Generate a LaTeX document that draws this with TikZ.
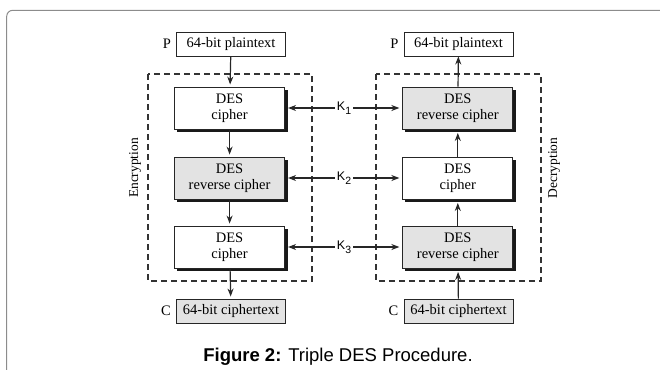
\documentclass[tikz,border=0pt]{standalone}
\usepackage{fontspec}
\setmainfont{Liberation Serif}
\newfontfamily\capfont{Liberation Sans}
\usetikzlibrary{arrows.meta,positioning,calc,backgrounds}

\tikzset{
  desbox/.style={draw=black!85,line width=0.9pt,fill=white,minimum width=110pt,minimum height=42pt,
    inner sep=0pt,align=center,font=\fontsize{14.5}{16}\selectfont},
  revbox/.style={desbox,fill=black!11},
  bitbox/.style={draw=black!85,line width=0.9pt,fill=white,minimum width=109pt,minimum height=24pt,
    inner sep=0pt,font=\fontsize{14.5}{16}\selectfont},
  flow/.style={-{Stealth[length=8pt,width=6pt]},line width=1.2pt,draw=black!85},
  dashbox/.style={draw=black!80,line width=1.4pt,dash pattern=on 6pt off 4pt},
  keylab/.style={inner sep=2pt,font=\capfont\fontsize{12.5}{13}\selectfont},
  sidelab/.style={font=\fontsize{14.5}{16}\selectfont,inner sep=0pt}
}
\newcommand{\keyname}[1]{K\raisebox{-3.5pt}{\fontsize{10.5}{10.5}\selectfont #1}}

\begin{document}
\begin{tikzpicture}[x=1pt,y=-1pt]
  \useasboundingbox (0,0) rectangle (660,369);
  % page frame
  \draw[black!45,line width=1pt,rounded corners=6pt] (6.7,380) |- (680,10.3);

  % encryption side
  \draw[dashbox] (148,74) rectangle (312,281);
  \node[bitbox] (ptL) at (231,44) {64-bit plaintext};
  \node[desbox] (encA) at (229.6,108) {DES\\cipher};
  \node[revbox] (encB) at (229.6,178) {DES\\reverse cipher};
  \node[desbox] (encC) at (229.6,247) {DES\\cipher};
  \node[bitbox,fill=black!11] (ctL) at (231,311) {64-bit ciphertext};
  \node[sidelab,left=5pt of ptL] (pL) {P};
  \node[sidelab,left=5pt of ctL] (cL) {C};
  \node[font=\fontsize{13.5}{15}\selectfont,rotate=90] (enc) at (135,168) {Encryption};

  % decryption side
  \draw[dashbox] (376,74) rectangle (541,281);
  \node[bitbox] (ptR) at (458.5,44) {64-bit plaintext};
  \node[revbox] (decA) at (457.8,108) {DES\\reverse cipher};
  \node[desbox] (decB) at (457.8,178) {DES\\cipher};
  \node[revbox] (decC) at (457.8,247) {DES\\reverse cipher};
  \node[bitbox,fill=black!11] (ctR) at (458.5,311) {64-bit ciphertext};
  \node[sidelab,left=5pt of ptR] (pR) {P};
  \node[sidelab,left=5pt of ctR] (cR) {C};
  \node[font=\fontsize{13.5}{15}\selectfont,rotate=90] (dec) at (554,168) {Decryption};

  % box shadows
  \begin{pgfonlayer}{background}
    \foreach \b in {encA,encB,encC,decA,decB,decC}
      \fill[black!90] ($(\b.south west)+(3,3)$) rectangle ($(\b.north east)+(3,3)$);
  \end{pgfonlayer}

  % keys
  \node[keylab] (k1) at (344,108) {\keyname{1}};
  \node[keylab] (k2) at (344,178) {\keyname{2}};
  \node[keylab] (k3) at (344,247) {\keyname{3}};

  % data flow
  \draw[flow,shorten >=2pt] (ptL) -- (encA);
  \draw[flow,shorten >=2pt] (encA) -- (encB);
  \draw[flow,shorten >=2pt] (encB) -- (encC);
  \draw[flow,shorten >=2pt] (encC) -- (ctL);
  \draw[flow,shorten >=3.5pt] (ctR) -- (decC);
  \draw[flow,shorten >=3.5pt] (decC) -- (decB);
  \draw[flow,shorten >=3.5pt] (decB) -- (decA);
  \draw[flow] (decA) -- (ptR);

  \foreach \k/\e/\d in {k1/encA/decA,k2/encB/decB,k3/encC/decC}{
    \draw[flow,shorten >=3pt] (\k) -- (\e);
    \draw[flow,shorten >=3pt] (\k) -- (\d);
  }

  % caption
  \node[font=\capfont\fontsize{18.5}{20}\selectfont] (cap) at (338,357)
    {\textbf{Figure 2:} Triple DES Procedure.};
\end{tikzpicture}
\end{document}
